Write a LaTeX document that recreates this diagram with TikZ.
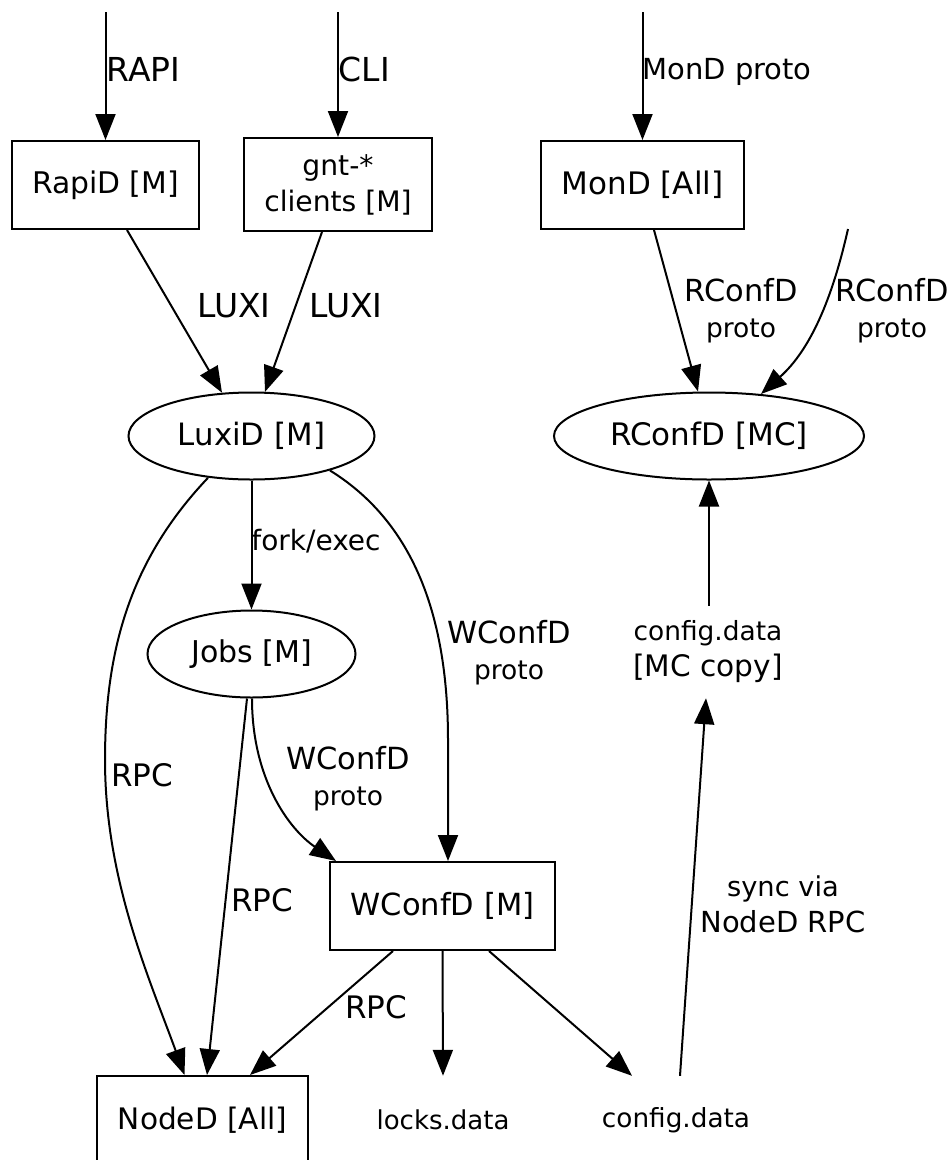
\documentclass[tikz,border=0pt]{standalone}
\usepackage{fontspec}
\setmainfont{DejaVu Sans}
\usetikzlibrary{arrows.meta,shapes.geometric,calc}
\newcommand\fsz[1]{\fontsize{#1}{36}\selectfont}

\begin{document}
\begin{tikzpicture}[x=1pt,y=-1pt,
  every node/.style={font=\fsz{29}, inner sep=0pt, align=center},
  box/.style={draw, line width=2pt, rectangle, minimum height=88pt},
  oval/.style={draw, line width=2pt, ellipse, minimum height=87pt},
  filenode/.style={minimum height=88pt, minimum width=150pt},
  lbl/.style={},
  conn/.style={line width=2pt, -{Triangle[length=26pt,width=20pt]}},
]
\path[use as bounding box] (0,0) rectangle (952,1160);
\clip (0,0) rectangle (952,1160);
\fill[white] (0,0) rectangle (952,1160);

% daemons and clients
\node[box, minimum width=187pt, font=\fsz{29.8}] (rapid) at (105.5,185) {RapiD [M]};
\node[box, minimum width=188pt, minimum height=93pt, font=\fsz{28.2}] (gnt) at (338,184.5) {gnt-*\\clients [M]};
\node[box, minimum width=203pt, font=\fsz{31}] (mond) at (642.5,185) {MonD [All]};
\node[oval, minimum width=246pt, font=\fsz{30.8}] (luxid) at (251.5,436) {LuxiD [M]};
\node[oval, minimum width=310pt, font=\fsz{31}] (rconfd) at (709,436) {RConfD [MC]};
\node[oval, minimum width=208pt, font=\fsz{30}] (jobs) at (251.5,654) {Jobs [M]};
\node[box, minimum width=225pt, font=\fsz{30.5}] (wconfd) at (442.5,906) {WConfD [M]};
\node[box, minimum width=211pt, font=\fsz{29.6}] (noded) at (202.5,1120) {NodeD [All]};

% data files
\node[filenode, font=\fsz{26}] (locks) at (443,1120) {locks.data};
\node[filenode, font=\fsz{26.3}] (cfg) at (676,1120) {config.data};
\node[minimum height=92pt, minimum width=150pt] (mccopy) at (708,652) {\fsz{26.4}config.data\\\fsz{29.6}{}[MC copy]};

% external entry points
\coordinate (rapisrc) at (105.5,12);
\coordinate (clisrc) at (338,12);
\coordinate (mondsrc) at (642.5,12);
\coordinate (rconfsrc) at (848,229);

% connectors
\draw[conn] (rapisrc) -- (rapid.north);
\draw[conn] (clisrc) -- (gnt.north);
\draw[conn] (mondsrc) -- (mond.north);
\draw[conn] ($(rapid.south)+(21.5,0)$) -- ($(luxid.north)+(-29.5,1.2)$);
\draw[conn] ($(gnt.south)+(-16,0)$) -- ($(luxid.north)+(13.5,0.4)$);
\draw[conn] ($(mond.south)+(11.5,0)$) -- ($(rconfd.north)+(-11,0)$);
\draw[conn] (rconfsrc) .. controls (832,300) and (810,350) .. ($(rconfd.north)+(52,2.5)$);
\draw[conn] (luxid.south) -- (jobs.north);
\draw[conn] ($(luxid.south)+(-43.5,-2.7)$) .. controls (130,560) and (105,650) .. (105,760)
  .. controls (105,880) and (150,980) .. ($(noded.north)+(-18,0)$);
\draw[conn] ($(luxid.south)+(78.5,-10)$) .. controls (410,520) and (448,610) .. (448,740)
  -- ($(wconfd.north)+(5.5,0)$);
\draw[conn] ($(jobs.south)+(-4.5,0)$) -- ($(noded.north)+(4.5,0)$);
\draw[conn] ($(jobs.south)+(0.5,0)$) .. controls (252,780) and (290,830) .. ($(wconfd.north west)+(7,0)$);
\draw[conn] ($(wconfd.south)+(-49.5,0)$) -- ($(noded.north)+(47.5,0)$);
\draw[conn] (wconfd.south) -- (locks.north);
\draw[conn] ($(wconfd.south)+(46.5,0)$) -- ($(cfg.north)+(-44,0)$);
\draw[conn] ($(cfg.north)+(4,0)$) -- ($(mccopy.south)+(-2,0)$);
\draw[conn] ($(mccopy.north)+(1,0)$) -- (rconfd.south);

% connector labels
\node[lbl, font=\fsz{33}] (lrapi) at (143.5,69) {RAPI};
\node[lbl, font=\fsz{33}] (lcli) at (364.5,69) {CLI};
\node[lbl] (lmond) at (727,72) {MonD proto};
\node[lbl, font=\fsz{33}] (lluxi1) at (234,306) {LUXI};
\node[lbl, font=\fsz{33}] (lluxi2) at (346,306) {LUXI};
\node[lbl] (lrconf1) at (741,311) {\fsz{30.4}RConfD\\\fsz{26.5}proto};
\node[lbl] (lrconf2) at (892,311) {\fsz{30.4}RConfD\\\fsz{26.5}proto};
\node[lbl, font=\fsz{28}] (lfork) at (316,541) {fork/exec};
\node[lbl] (lwconf1) at (509,653) {\fsz{30.5}WConfD\\\fsz{26.5}proto};
\node[lbl] (lwconf2) at (348,779) {\fsz{30.5}WConfD\\\fsz{26.5}proto};
\node[lbl, font=\fsz{31}] (lrpc1) at (142,775) {RPC};
\node[lbl, font=\fsz{31}] (lrpc2) at (262,900) {RPC};
\node[lbl, font=\fsz{31}] (lrpc3) at (376,1007) {RPC};
\node[lbl] (lsync) at (783,904) {\fsz{27.3}sync via\\\fsz{29}NodeD RPC};
\end{tikzpicture}
\end{document}
